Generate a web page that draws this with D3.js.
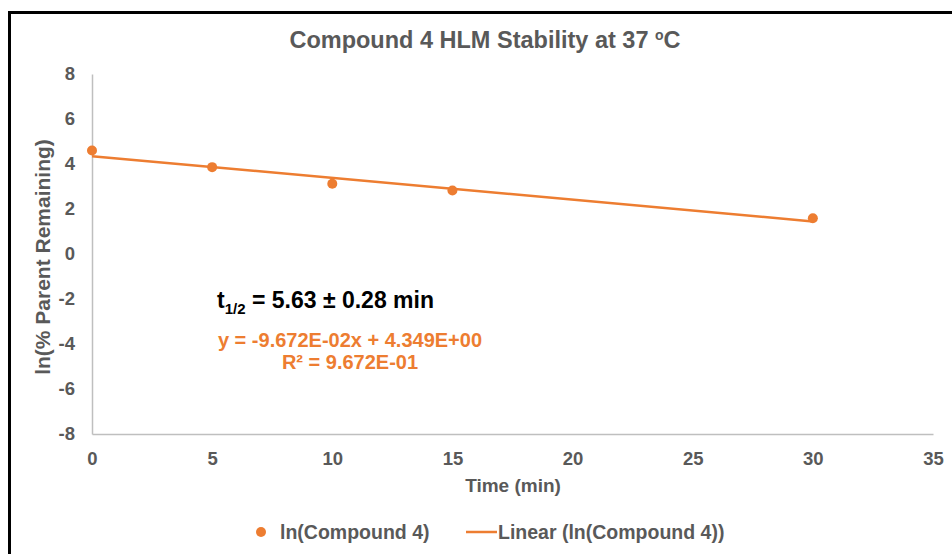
<!DOCTYPE html>
<html>
<head>
<meta charset="utf-8">
<script src="https://cdn.jsdelivr.net/npm/d3@7"></script>
<style>
  body { margin: 0; background: #fff; }
  svg { display: block; font-family: "Liberation Sans", Arial, sans-serif; font-weight: bold; }
</style>
</head>
<body>
<div id="chart"></div>
<script>
// data
var times = [0, 5, 10, 15, 30];
var lnRemaining = [4.60, 3.86, 3.12, 2.82, 1.59];
var xTicks = [0, 5, 10, 15, 20, 25, 30, 35];
var yTicks = [-8, -6, -4, -2, 0, 2, 4, 6, 8];
var fitSlope = -0.09672, fitIntercept = 4.349;
var fitRange = [0, 30];

var W = 952, H = 554;
var grey = "#595959", orange = "#ED7D31", axisGrey = "#BFBFBF";

var svg = d3.select("#chart").append("svg").attr("width", W).attr("height", H);

// black frame (right/bottom edges fall outside the picture)
svg.append("rect").attr("x", 9.5).attr("y", 12.5).attr("width", W + 20).attr("height", H + 20)
    .attr("fill", "none").attr("stroke", "#000").attr("stroke-width", 3);

var x = d3.scaleLinear().domain([0, 35]).range([92, 933]);
var y = d3.scaleLinear().domain([-8, 8]).range([434, 74]);

// title
var title = svg.append("text").attr("x", 485).attr("y", 48).attr("text-anchor", "middle")
    .attr("fill", grey).style("font-size", "23.5px");
title.append("tspan").text("Compound 4 HLM Stability at 37 ");
title.append("tspan").attr("dy", -8).style("font-size", "14px").text("o");
title.append("tspan").attr("dy", 8).text("C");

// axes
var xAxis = svg.append("g").attr("transform", "translate(0," + y(-8) + ")")
    .call(d3.axisBottom(x).tickValues(xTicks).tickSize(0).tickPadding(18).tickFormat(function (d) { return String(d); }));
var yAxis = svg.append("g").attr("transform", "translate(" + x(0) + ",0)")
    .call(d3.axisLeft(y).tickValues(yTicks).tickSize(0).tickPadding(17).tickFormat(function (d) { return String(d); }));
[xAxis, yAxis].forEach(function (a) {
    a.select(".domain").attr("stroke", axisGrey).attr("stroke-width", 1.5);
    a.selectAll("text").attr("fill", grey).style("font-size", "18.5px").style("font-family", "Liberation Sans, Arial, sans-serif").style("font-weight", "bold");
});

svg.append("text").attr("x", 513).attr("y", 492).attr("text-anchor", "middle")
    .attr("fill", grey).style("font-size", "19px").text("Time (min)");
svg.append("text").attr("transform", "translate(50,257) rotate(-90)").attr("text-anchor", "middle")
    .attr("fill", grey).style("font-size", "21px").text("ln(% Parent Remaining)");

// linear fit
svg.append("line")
    .attr("x1", x(fitRange[0])).attr("y1", y(fitSlope * fitRange[0] + fitIntercept))
    .attr("x2", x(fitRange[1])).attr("y2", y(fitSlope * fitRange[1] + fitIntercept))
    .attr("stroke", orange).attr("stroke-width", 2.5);

// points
svg.selectAll("circle.pt").data(times).enter().append("circle").attr("class", "pt")
    .attr("cx", function (d) { return x(d); })
    .attr("cy", function (d, i) { return y(lnRemaining[i]); })
    .attr("r", 5).attr("fill", orange);

// annotations
var thalf = svg.append("text").attr("x", 217).attr("y", 308).attr("fill", "#000").style("font-size", "23px");
thalf.append("tspan").text("t");
thalf.append("tspan").attr("dy", 6).style("font-size", "15px").text("1/2");
thalf.append("tspan").attr("dy", -6).text(" = 5.63 \u00b1 0.28 min");

svg.append("text").attr("x", 350).attr("y", 347).attr("text-anchor", "middle").attr("fill", orange)
    .style("font-size", "20px").text("y = -9.672E-02x + 4.349E+00");
svg.append("text").attr("x", 350).attr("y", 369).attr("text-anchor", "middle").attr("fill", orange)
    .style("font-size", "20px").text("R\u00b2 = 9.672E-01");

// legend
svg.append("circle").attr("cx", 261).attr("cy", 532).attr("r", 5).attr("fill", orange);
svg.append("text").attr("x", 280).attr("y", 539).attr("fill", grey).style("font-size", "19.5px").text("ln(Compound 4)");
svg.append("line").attr("x1", 466).attr("x2", 497).attr("y1", 532).attr("y2", 532)
    .attr("stroke", orange).attr("stroke-width", 2.5);
svg.append("text").attr("x", 498).attr("y", 539).attr("fill", grey).style("font-size", "19.5px").text("Linear (ln(Compound 4))");
</script>
</body>
</html>
